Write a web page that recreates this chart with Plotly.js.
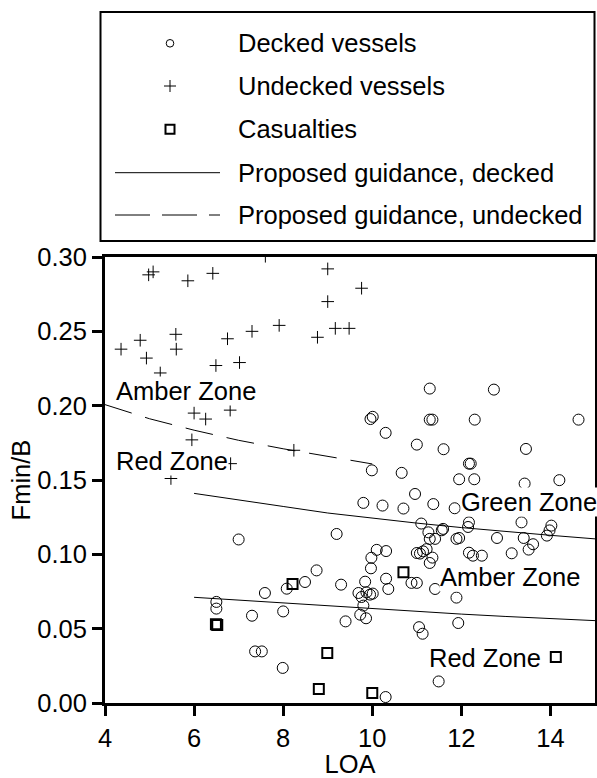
<!DOCTYPE html>
<html>
<head>
<meta charset="utf-8">
<script src="https://cdn.plot.ly/plotly-3.0.1.min.js"></script>
<style>html,body{margin:0;padding:0;background:#fff;}#chart{width:597px;height:778px;}</style>
</head>
<body>
<div id="chart"></div>
<script>
// ---------- data ----------
const deckedLOA = [7.00,6.50,6.50,7.30,7.59,7.37,7.52,7.99,8.00,8.08,
  8.49,8.75,9.20,9.30,9.40,9.69,9.76,9.87,9.95,10.01,
  9.80,9.73,9.86,9.84,9.97,9.98,10.10,10.31,10.31,10.36,
  10.30,9.80,10.23,10.70,9.99,10.66,9.96,10.01,10.30,11.00,
  10.96,11.37,11.10,11.26,11.29,11.41,11.59,11.56,11.85,11.89,
  11.00,11.07,11.14,11.22,11.35,11.29,10.88,11.00,11.41,11.89,
  11.93,11.05,11.13,11.49,11.29,12.73,11.29,11.35,12.30,14.63,
  11.60,13.45,12.17,12.21,11.95,12.29,13.42,14.20,12.17,12.15,
  13.35,14.02,13.98,13.92,11.95,12.80,13.40,13.61,13.51,12.17,
  12.26,12.46,13.13];
const deckedFminB = [0.110,0.068,0.0635,0.0587,0.074,0.0347,0.0347,0.0236,0.0616,0.0769,
  0.0814,0.0892,0.1137,0.0796,0.0549,0.0740,0.0713,0.0744,0.0729,0.0736,
  0.0655,0.0594,0.0570,0.0816,0.0906,0.0977,0.1030,0.1022,0.0836,0.0767,
  0.0040,0.1346,0.1328,0.1308,0.1565,0.1548,0.1910,0.1925,0.1817,0.1738,
  0.1406,0.1338,0.1207,0.1148,0.1104,0.1104,0.1171,0.1162,0.1310,0.1104,
  0.1009,0.1005,0.1020,0.1035,0.0978,0.0942,0.0808,0.0808,0.0767,0.0709,
  0.0538,0.0510,0.0466,0.0145,0.2115,0.2108,0.1906,0.1906,0.1906,0.1906,
  0.1707,0.1709,0.1610,0.1610,0.1505,0.1505,0.1476,0.1499,0.1215,0.1184,
  0.1215,0.1193,0.1161,0.1126,0.1110,0.1110,0.1110,0.1068,0.1032,0.1011,
  0.0991,0.0991,0.1007];

const undeckedLOA = [4.98,5.08,5.86,6.42,4.36,4.79,4.93,5.59,5.60,5.24,
  6.75,7.30,6.49,7.02,7.60,9.00,9.76,9.00,7.91,8.77,
  9.17,9.48,6.00,6.26,6.81,5.95,6.82,5.48,8.24];
const undeckedFminB = [0.288,0.290,0.284,0.289,0.238,0.244,0.232,0.248,0.238,0.222,
  0.245,0.250,0.227,0.229,0.3005,0.292,0.279,0.270,0.254,0.246,
  0.252,0.252,0.195,0.191,0.197,0.177,0.161,0.151,0.170];

const casualtyLOA = [6.49,6.52,8.21,8.99,8.80,10.00,10.70,14.12];
const casualtyFminB = [0.0530,0.0524,0.0801,0.0336,0.0094,0.0067,0.0879,0.0310];

const guideDeckedLOA = [6,7,8,9,10,11,12,13,14,15];
const guideDeckedUpper = [0.1410,0.1368,0.1322,0.1278,0.1242,0.1210,0.1180,0.1153,0.1128,0.1104];
const guideDeckedLower = [0.0711,0.0692,0.0672,0.0652,0.0633,0.0615,0.0598,0.0582,0.0567,0.0554];
const guideUndeckedLOA = [4,5,6,7,8,9,10];
const guideUndecked = [0.2007,0.1912,0.1835,0.1767,0.1710,0.1660,0.1608];

const legendLabels = ['Decked vessels','Undecked vessels','Casualties',
  'Proposed guidance, decked','Proposed guidance, undecked'];
const zoneLabels = ['Amber Zone','Red Zone','Green Zone','Amber Zone','Red Zone'];
const zoneX = [4.22,4.22,11.97,11.50,11.25];
const zoneY = [0.2100,0.1628,0.1354,0.0850,0.0301];

// ---------- traces ----------
const blk = 'black';
const traces = [
  {x: guideDeckedLOA, y: guideDeckedUpper, mode:'lines', line:{color:blk,width:1}, name:legendLabels[3]},
  {x: guideDeckedLOA, y: guideDeckedLower, mode:'lines', line:{color:blk,width:1}, name:legendLabels[3]},
  {x: guideUndeckedLOA, y: guideUndecked, mode:'lines', line:{color:blk,width:1,dash:'28px,14px'}, name:legendLabels[4]},
  {x: deckedLOA, y: deckedFminB, mode:'markers', name:legendLabels[0],
   marker:{symbol:'circle-open', size:11, color:blk, line:{width:1,color:blk}}},
  {x: undeckedLOA, y: undeckedFminB, mode:'markers', name:legendLabels[1],
   marker:{symbol:'cross-thin-open', size:9, color:blk, line:{width:1,color:blk}}},
  {x: casualtyLOA, y: casualtyFminB, mode:'markers', name:legendLabels[2],
   marker:{symbol:'square-open', size:10, color:blk, line:{width:2,color:blk}}}
];

// ---------- manual legend box (pixel -> paper helpers) ----------
const L = 105, W = 490, T = 257, PH = 446;
const PX = v => (v - L) / W;
const PY = v => (T + PH - v) / PH;
const rowY = [43.3, 86, 129.3, 172.7, 215];
const symX = 170, textX = 236;
const shapes = [
  {type:'rect', xref:'paper', yref:'paper', x0:PX(100.5), x1:PX(594.5), y0:PY(241), y1:PY(12),
   line:{color:blk,width:2}, fillcolor:'rgba(0,0,0,0)'},
  {type:'circle', xref:'paper', yref:'paper', x0:PX(symX-3.8), x1:PX(symX+3.8), y0:PY(rowY[0]+3.8), y1:PY(rowY[0]-3.8),
   line:{color:blk,width:1}},
  {type:'path', xref:'paper', yref:'paper',
   path:`M${PX(symX-6)},${PY(rowY[1])}L${PX(symX+6)},${PY(rowY[1])}M${PX(symX)},${PY(rowY[1]-6)}L${PX(symX)},${PY(rowY[1]+6)}`,
   line:{color:blk,width:1}},
  {type:'rect', xref:'paper', yref:'paper', x0:PX(symX-4.5), x1:PX(symX+4.5), y0:PY(rowY[2]+4.5), y1:PY(rowY[2]-4.5),
   line:{color:blk,width:2}},
  {type:'line', xref:'paper', yref:'paper', x0:PX(115), x1:PX(220), y0:PY(rowY[3]), y1:PY(rowY[3]),
   line:{color:blk,width:1}},
  {type:'line', xref:'paper', yref:'paper', x0:PX(115), x1:PX(220), y0:PY(rowY[4]), y1:PY(rowY[4]),
   line:{color:blk,width:1,dash:'35px,12px'}}
];

const fontFam = 'Arial, "Liberation Sans", sans-serif';
const FS = 25.5;
const annotations = legendLabels.map((t,i) => ({
  text:t, xref:'paper', yref:'paper', x:PX(textX), y:PY(rowY[i]), xanchor:'left', yanchor:'middle',
  showarrow:false, font:{family:fontFam,size:FS,color:blk}
})).concat(zoneLabels.map((t,i) => ({
  text:t, xref:'x', yref:'y', x:zoneX[i], y:zoneY[i], xanchor:'left', yanchor:'middle',
  showarrow:false, bgcolor:'white', borderpad:0, font:{family:fontFam,size:FS,color:blk}
})));

const axisCommon = {
  showgrid:false, zeroline:false, ticks:'outside', ticklen:10, tickwidth:3, tickcolor:blk,
  showline:true, linecolor:blk, linewidth:3, mirror:true,
  tickfont:{family:fontFam,size:FS,color:blk}
};

const layout = {
  width:597, height:778,
  margin:{l:L, r:597-L-W, t:T, b:778-T-PH, pad:0},
  paper_bgcolor:'white', plot_bgcolor:'white',
  font:{family:fontFam,size:FS,color:blk},
  showlegend:false,
  xaxis:Object.assign({}, axisCommon, {range:[4,15], tick0:0, dtick:2,
    title:{text:'LOA', font:{family:fontFam,size:FS,color:blk}, standoff:0}}),
  yaxis:Object.assign({}, axisCommon, {range:[0,0.3], tick0:0, dtick:0.05, tickformat:'.2f',
    title:{text:'Fmin/B', font:{family:fontFam,size:FS,color:blk}, standoff:0}}),
  shapes:shapes,
  annotations:annotations
};

Plotly.newPlot('chart', traces, layout, {staticPlot:true, displayModeBar:false});
</script>
</body>
</html>
